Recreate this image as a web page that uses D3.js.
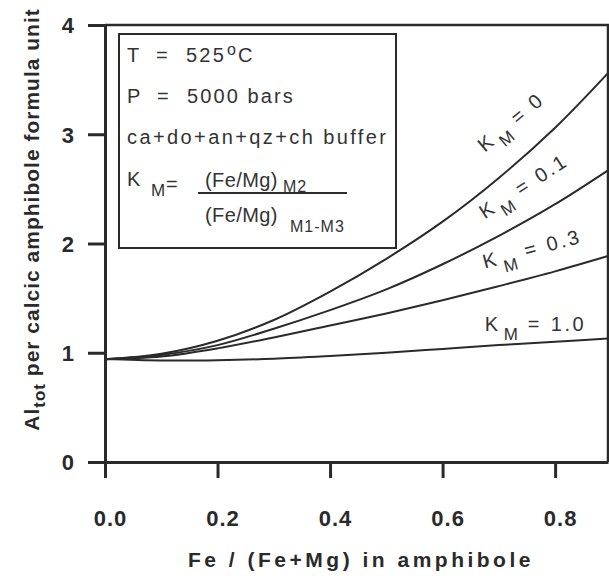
<!DOCTYPE html>
<html>
<head>
<meta charset="utf-8">
<script src="https://cdn.jsdelivr.net/npm/d3@7"></script>
<style>
  body { margin: 0; background: #fff; }
  svg { display: block; font-family: "Liberation Sans", Arial, sans-serif; }
</style>
</head>
<body>
<svg width="609" height="576"></svg>
<script>
// Fe/(Fe+Mg) positions where the curves were read
const feRatio = [0, 0.1, 0.2, 0.3, 0.4, 0.5, 0.6, 0.7, 0.8, 0.894];
// Al_tot for each K_M
const km0   = [0.94, 0.99, 1.11, 1.30, 1.56, 1.86, 2.20, 2.60, 3.06, 3.56];
const km01  = [0.94, 0.98, 1.07, 1.22, 1.39, 1.58, 1.81, 2.07, 2.36, 2.67];
const km03  = [0.94, 0.965, 1.04, 1.14, 1.25, 1.36, 1.48, 1.61, 1.745, 1.885];
const km10  = [0.943, 0.93, 0.932, 0.945, 0.97, 1.00, 1.035, 1.07, 1.10, 1.13];
const curves = [km0, km01, km03, km10];

const xTicks = [0, 0.2, 0.4, 0.6, 0.8];
const yTicks = [0, 1, 2, 3, 4];

// curve labels: K_M value, anchor point in data units, angle
const curveLabels = [
  { value: "0",   at: [0.675, 2.83], angle: -40 },
  { value: "0.1", at: [0.675, 2.22], angle: -33 },
  { value: "0.3", at: [0.675, 1.77], angle: -15 },
  { value: "1.0", at: [0.675, 1.20], angle: 0 }
];

const svg = d3.select("svg");
const x = d3.scaleLinear().domain([0, 0.894]).range([105, 608]);
const y = d3.scaleLinear().domain([0, 4]).range([462, 25]);
const ink = "#2a2a2a";

// frame top + right
svg.append("path")
  .attr("d", `M${x(0)},${y(4)}H${x(0.894)}V${y(0)}`)
  .attr("fill", "none")
  .attr("stroke", ink)
  .attr("stroke-width", 2.5);

const xAxis = svg.append("g")
  .attr("transform", `translate(0,${y(0)})`)
  .call(d3.axisBottom(x).tickValues(xTicks).tickFormat(d3.format(".1f")).tickSize(16).tickSizeOuter(0).tickPadding(32));
const yAxis = svg.append("g")
  .attr("transform", `translate(${x(0)},0)`)
  .call(d3.axisLeft(y).tickValues(yTicks).tickFormat(d3.format("d")).tickSize(17).tickSizeOuter(0).tickPadding(14));

[xAxis, yAxis].forEach(a => {
  a.select(".domain").attr("stroke", ink).attr("stroke-width", 3);
  a.selectAll(".tick line").attr("stroke", ink).attr("stroke-width", 3);
  a.selectAll(".tick text")
    .attr("fill", ink)
    .style("font-size", "22px")
    .style("font-weight", "bold")
    .style("font-family", "'Liberation Sans', Arial, sans-serif");
});
xAxis.selectAll(".tick text").attr("dx", 5).style("letter-spacing", "1px");
yAxis.selectAll(".tick text").attr("dy", "0.36em");

// curves
const line = d3.line()
  .x((d, i) => x(feRatio[i]))
  .y(d => y(d))
  .curve(d3.curveCatmullRom.alpha(0.5));

svg.append("g")
  .selectAll("path")
  .data(curves).enter()
  .append("path")
  .attr("d", line)
  .attr("fill", "none")
  .attr("stroke", ink)
  .attr("stroke-width", 2);

// curve labels
const lab = svg.append("g")
  .attr("fill", "#333")
  .style("font-size", "20px")
  .selectAll("text")
  .data(curveLabels).enter()
  .append("text")
  .attr("transform", d => `translate(${x(d.at[0])},${y(d.at[1])}) rotate(${d.angle})`);
lab.append("tspan").text("K");
lab.append("tspan").attr("x", 19).attr("dy", 9).style("font-size", "17px").text("M");
lab.append("tspan").attr("x", 43).attr("dy", -9).text("=");
lab.append("tspan").attr("x", 66).style("letter-spacing", "2.5px").text(d => d.value);

// conditions box
svg.append("rect")
  .attr("x", 119).attr("y", 34)
  .attr("width", 277).attr("height", 214)
  .attr("fill", "#fff")
  .attr("stroke", ink)
  .attr("stroke-width", 2);

const box = svg.append("g").attr("fill", "#333").style("font-size", "20px");

const t1 = box.append("text").attr("y", 62);
t1.append("tspan").attr("x", 127).text("T");
t1.append("tspan").attr("x", 156).text("=");
t1.append("tspan").attr("x", 186).style("letter-spacing", "2.2px").text("525");
t1.append("tspan").attr("x", 227).attr("dy", -7).style("font-size", "16px").text("o");
t1.append("tspan").attr("x", 238).attr("dy", 7).text("C");

const t2 = box.append("text").attr("y", 103).style("letter-spacing", "2.1px");
t2.append("tspan").attr("x", 127).text("P");
t2.append("tspan").attr("x", 157).text("=");
t2.append("tspan").attr("x", 187).text("5000 bars");

box.append("text").attr("x", 127).attr("y", 144)
  .style("letter-spacing", "2.4px")
  .text("ca+do+an+qz+ch buffer");

const t4 = box.append("text").attr("y", 186);
t4.append("tspan").attr("x", 127).text("K");
t4.append("tspan").attr("x", 151).attr("dy", 10).style("font-size", "17px").text("M");
t4.append("tspan").attr("x", 166).attr("dy", -5).text("=");

const num = box.append("text").attr("y", 187).style("letter-spacing", "0.4px");
num.append("tspan").attr("x", 205).text("(Fe/Mg)");
num.append("tspan").attr("x", 283).attr("dy", 5).style("font-size", "16px").style("letter-spacing", "1px").text("M2");

box.append("line")
  .attr("x1", 198).attr("x2", 347)
  .attr("y1", 193).attr("y2", 193)
  .attr("stroke", ink).attr("stroke-width", 1.8);

const den = box.append("text").attr("y", 222).style("letter-spacing", "0.4px");
den.append("tspan").attr("x", 205).text("(Fe/Mg)");
den.append("tspan").attr("x", 290).attr("dy", 10).style("font-size", "16px").style("letter-spacing", "1px").text("M1-M3");

// axis titles
svg.append("text")
  .attr("x", 361).attr("y", 567)
  .attr("text-anchor", "middle")
  .attr("fill", ink)
  .style("font-size", "21px")
  .style("font-weight", "bold")
  .style("letter-spacing", "3.5px")
  .text("Fe / (Fe+Mg) in amphibole");

const yt = svg.append("text")
  .attr("transform", `translate(39,${y(2) - 24}) rotate(-90)`)
  .attr("text-anchor", "middle")
  .attr("fill", ink)
  .style("font-size", "21px")
  .style("font-weight", "bold")
  .style("letter-spacing", "1px");
yt.append("tspan").text("Al");
yt.append("tspan").attr("dy", 6).style("font-size", "17px").text("tot");
yt.append("tspan").attr("dy", -6).text(" per calcic amphibole formula unit");
</script>
</body>
</html>
